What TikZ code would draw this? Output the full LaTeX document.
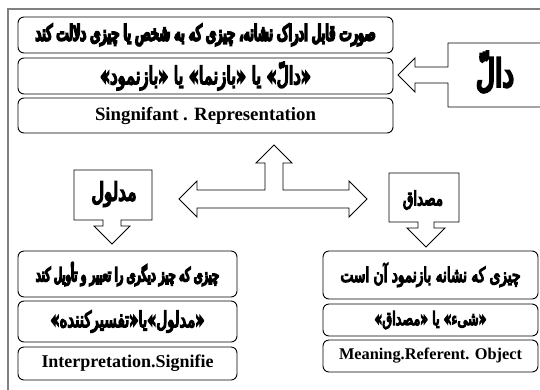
\documentclass[tikz,border=0pt]{standalone}
\usepackage{fontspec}
\setmainfont{Liberation Serif}
\newfontfamily\fa[Script=Arabic,FakeStretch=0.68,FakeBold=6]{DejaVu Sans}
\newfontfamily\fah[Script=Arabic,FakeStretch=0.6,FakeBold=9]{DejaVu Sans}
\TeXXeTstate=1
\newlength\txtw
\newcommand\fitfont[3]{% #1 target width, #2 font switch, #3 text
  \settowidth\txtw{#2\fontsize{10}{12}\selectfont #3}%
  \pgfmathsetmacro\fitsz{10*#1/\txtw}%
  {#2\fontsize{\fitsz}{\fitsz}\selectfont #3}}
\newcommand\artxt[2]{\fitfont{#1}{\fa}{#2}}
\newcommand\arhtxt[2]{\fitfont{#1}{\fah}{#2}}
\newcommand\entxt[2]{\fitfont{#1}{\bfseries}{#2}}
\tikzset{
  rbox/.style={draw, rounded corners=6pt, line width=0.9pt, inner sep=0pt},
  blk/.style={draw, line width=0.9pt, line join=miter},
  frameline/.style={draw=gray, line width=1.6pt},
  plain/.style={inner sep=0pt}
}
\begin{document}
\begin{tikzpicture}[x=1pt,y=-1pt]
\useasboundingbox (0,0) rectangle (540,389);
\clip (0,0) rectangle (540,389);
\draw[frameline] (8,392) -- (8,9) -- (545,9);

% top boxes
\node[rbox, minimum width=375pt, minimum height=36pt] (t1) at (205.5,35)
  {\arhtxt{340}{\beginR صورت قابل ادراک نشانه، چیزی که به شخص یا چیزی دلالت کند\endR}};
\node[rbox, minimum width=375pt, minimum height=36pt] (t2) at (205.5,76)
  {\artxt{211}{\beginR «دالّ» یا «بازنما» یا «بازنمود»\endR}};
\node[rbox, minimum width=375pt, minimum height=35pt] (t3) at (205.5,115.5)
  {\entxt{221}{Singnifant . Representation}};

% Dal block with arrow
\draw[blk] (548,43) -- (448,43) -- (448,67) -- (415,67) -- (415,58) -- (398,75)
  -- (415,92) -- (415,83) -- (448,83) -- (448,107) -- (548,107);
\node[plain] (dal) at (495,72) {\artxt{38}{\beginR دالّ\endR}};

% T-shaped arrow
\draw[blk] (274,145) -- (292,163) -- (283,163) -- (283,190) -- (349,190) -- (349,181)
  -- (367,199) -- (349,217) -- (349,208) -- (197,208) -- (197,217) -- (179,199)
  -- (197,181) -- (197,190) -- (265,190) -- (265,163) -- (256,163) -- cycle;

% Madlul
\draw[blk] (74,170) -- (152,170) -- (152,220) -- (121,220) -- (121,226) -- (130,226)
  -- (112,244) -- (94,226) -- (103,226) -- (103,220) -- (74,220) -- cycle;
\node[plain] (madlul) at (114,194) {\artxt{45}{\beginR مدلول\endR}};

% Misdaq
\draw[blk] (389,173) -- (459,173) -- (459,222) -- (434,222) -- (434,228) -- (445,228)
  -- (426,247) -- (407,228) -- (418,228) -- (418,222) -- (389,222) -- cycle;
\node[plain] (misdaq) at (423,200) {\artxt{40}{\beginR مصداق\endR}};

% bottom-left boxes
\node[rbox, minimum width=219pt, minimum height=46pt] (l1) at (127.5,274)
  {\arhtxt{183}{\beginR چیزی که چیز دیگری را تعبیر و تأویل کند\endR}};
\node[rbox, minimum width=219pt, minimum height=41pt] (l2) at (127.5,321.5)
  {\artxt{154}{\beginR «مدلول»یا«تفسیرکننده»\endR}};
\node[rbox, minimum width=219pt, minimum height=33pt] (l3) at (127.5,363.5)
  {\entxt{172}{Interpretation.Signifie}};

% bottom-right boxes
\node[rbox, minimum width=215pt, minimum height=48pt] (r1) at (430.5,275)
  {\artxt{180}{\beginR چیزی که نشانه بازنمود آن است\endR}};
\node[rbox, minimum width=215pt, minimum height=32pt] (r2) at (430.5,320)
  {\artxt{112}{\beginR «شیء» یا «مصداق»\endR}};
\node[rbox, minimum width=215pt, minimum height=32pt] (r3) at (430.5,356)
  {\entxt{183}{Meaning.Referent. Object}};
\end{tikzpicture}
\end{document}
